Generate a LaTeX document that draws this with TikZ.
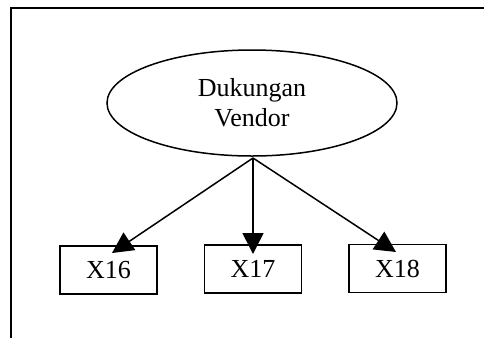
\documentclass[tikz,border=0pt]{standalone}
\usepackage{fontspec}
\setmainfont{Liberation Serif}
\usetikzlibrary{arrows.meta,shapes.geometric}
\begin{document}
\begin{tikzpicture}[x=1pt,y=-1pt,
  every node/.style={font=\fontsize{26}{32}\selectfont},
  ind/.style={draw,line width=1.5pt,minimum width=97pt,minimum height=48pt,inner sep=0pt},
  lat/.style={draw,ellipse,line width=1.5pt,minimum width=290pt,minimum height=106pt,inner sep=0pt,align=center},
  link/.style={line width=1.5pt,-{Triangle[length=21pt,width=21pt]}}]
\useasboundingbox (0,0) rectangle (484,338);
\draw[line width=1.8pt] (11,338) -- (11,8) -- (484,8);
\node[lat] (e) at (252,103) {Dukungan\\[-2pt]Vendor};
\node[ind] (b16) at (108.5,270) {X16};
\node[ind] (b17) at (253,269) {X17};
\node[ind] (b18) at (397.5,268.5) {X18};
\coordinate (s) at (253,158);
\coordinate (t16) at (112,253);
\coordinate (t17) at (253,254);
\coordinate (t18) at (396,252);
\draw[link] (s) -- (t16);
\draw[link] (s) -- (t17);
\draw[link] (s) -- (t18);
\end{tikzpicture}
\end{document}
